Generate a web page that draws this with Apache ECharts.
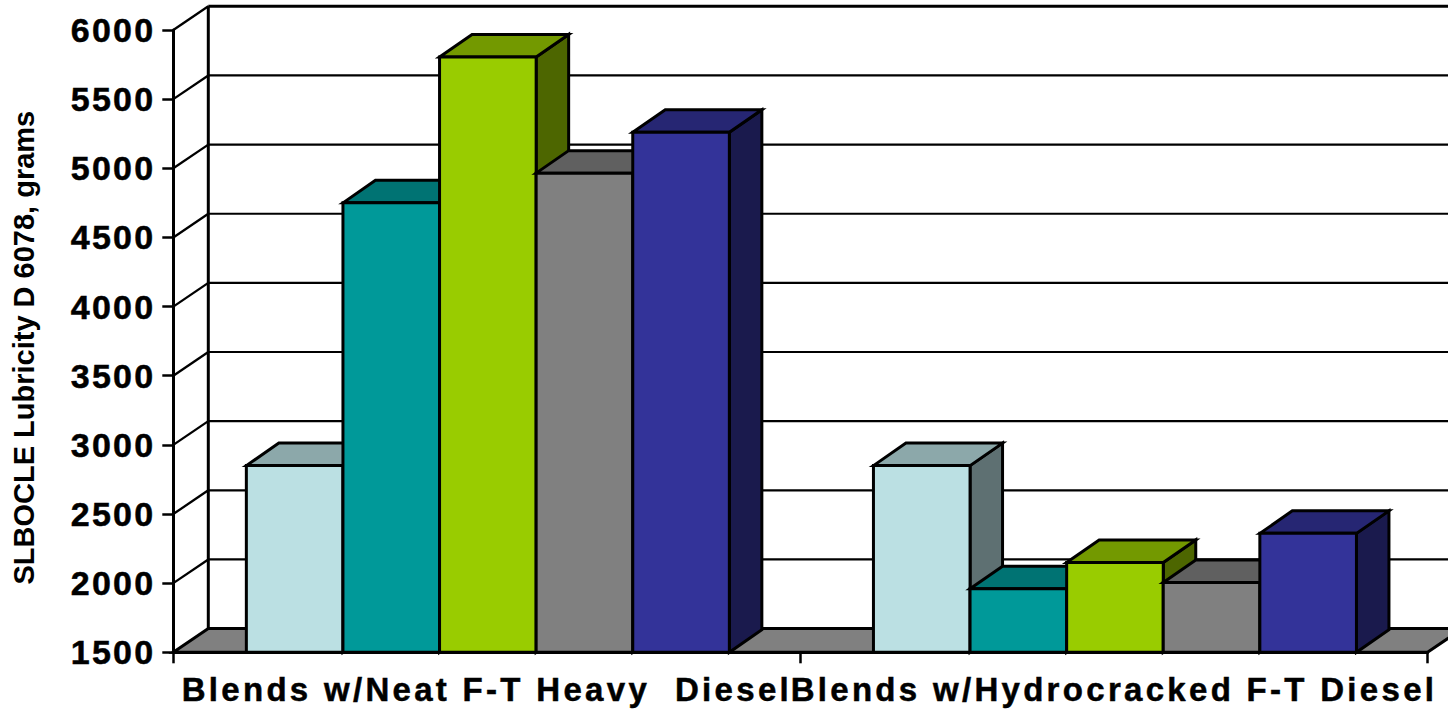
<!DOCTYPE html>
<html>
<head>
<meta charset="utf-8">
<style>
  html, body { margin: 0; padding: 0; background: #fff; }
  #chart { width: 1448px; height: 710px; overflow: hidden; }
  #chart text { white-space: pre; }
  #chart text[style*="33px"] { letter-spacing: 3.3px; }
  #chart text[style*="34px"] { letter-spacing: 2.2px; }
</style>
<script src="https://cdn.jsdelivr.net/npm/echarts@6/dist/echarts.min.js"></script>
</head>
<body>
<div id="chart"></div>
<script>
// SLBOCLE lubricity of diesel blends, one group of five bars per blend family.
var categories = ['Blends w/Neat F-T Heavy  Diesel', 'Blends w/Hydrocracked F-T Diesel'];
var neatHeavyValues = [2850, 4750, 5805, 4965, 5260];
var hydrocrackedValues = [2850, 1960, 2150, 2005, 2360];
var valueTicks = [1500, 2000, 2500, 3000, 3500, 4000, 4500, 5000, 5500, 6000];

var frontColors = ['#BBE0E3', '#009999', '#99CC00', '#808080', '#333399'];
var topColors = ['#8CA8AA', '#007373', '#739900', '#606060', '#262673'];
var sideColors = ['#5E7072', '#004D4D', '#4D6600', '#404040', '#1A1A4D'];

// Oblique projection offsets, in pixels
var wallDepth = { x: 35, y: -23.7 };
var barDepth = { x: 32.5, y: -22.5 };
var barShare = 96.6 / 627.1;
var barShift = 1;

var barRows = [];
[neatHeavyValues, hydrocrackedValues].forEach(function (values, group) {
  values.forEach(function (v, i) { barRows.push([group, i, v]); });
});

function poly(points, fill, width) {
  return {
    type: 'polygon',
    shape: { points: points },
    style: { fill: fill, stroke: '#000', lineWidth: width, lineJoin: 'miter' }
  };
}
function line(x1, y1, x2, y2, width) {
  return {
    type: 'line',
    shape: { x1: x1, y1: y1, x2: x2, y2: y2 },
    style: { stroke: '#000', lineWidth: width, fill: null }
  };
}

function renderWallTick(params, api) {
  var cs = params.coordSys;
  var value = api.value(0);
  var y = api.coord([0, value])[1];
  var left = cs.x, right = cs.x + cs.width;
  var bx = left + wallDepth.x, by = y + wallDepth.y;
  var isFloor = value === valueTicks[0];
  var isTop = value === valueTicks[valueTicks.length - 1];
  var children = [];
  if (isFloor) {
    children.push(poly([[left, y], [bx, by], [right + wallDepth.x, by], [right, y]], '#808080', 3));
    children.push(line(bx, by, bx, cs.y + wallDepth.y, 3));
  } else {
    children.push(line(left, y, bx, by, 2.3));
    children.push(line(bx, by, right + wallDepth.x, by, isTop ? 3 : 2.2));
  }
  return { type: 'group', children: children };
}

function renderBar(params, api) {
  var group = api.value(0), slot = api.value(1), value = api.value(2);
  var center = api.coord([group, value]);
  var base = api.coord([group, valueTicks[0]]);
  var w = api.size([1, 0])[0] * barShare;
  var x0 = center[0] + barShift + (slot - 2.5) * w;
  var x1 = x0 + w;
  var top = center[1], bottom = base[1];
  var dx = barDepth.x, dy = barDepth.y;
  return {
    type: 'group',
    children: [
      poly([[x1, top], [x1 + dx, top + dy], [x1 + dx, bottom + dy], [x1, bottom]], sideColors[slot], 3),
      poly([[x0, top], [x0 + dx, top + dy], [x1 + dx, top + dy], [x1, top]], topColors[slot], 3),
      poly([[x0, top], [x1, top], [x1, bottom], [x0, bottom]], frontColors[slot], 3)
    ]
  };
}

var chart = echarts.init(document.getElementById('chart'), null, { renderer: 'svg' });
chart.setOption({
  animation: false,
  backgroundColor: '#fff',
  grid: { left: 173.3, right: 20.5, top: 30, bottom: 57.7, containLabel: false, outerBoundsMode: 'none' },
  xAxis: {
    type: 'category',
    data: categories,
    z: 10,
    axisLine: { lineStyle: { color: '#000', width: 3 } },
    axisTick: { show: true, alignWithLabel: false, length: 11, lineStyle: { color: '#000', width: 2.5 } },
    axisLabel: {
      interval: 0, margin: 21, color: '#000', hideOverlap: false,
      textBorderColor: '#000', textBorderWidth: 0.5,
      fontFamily: 'Liberation Sans', fontWeight: 'bold', fontSize: 33
    }
  },
  yAxis: {
    type: 'value',
    min: 1500,
    max: 6000,
    interval: 500,
    z: 10,
    name: 'SLBOCLE Lubricity D 6078, grams',
    nameLocation: 'middle',
    nameGap: 135,
    nameTextStyle: {
      color: '#000', fontFamily: 'Liberation Sans', fontWeight: 'bold', fontSize: 29,
      padding: [0, 13, 0, 0]
    },
    splitLine: { show: false },
    axisLine: { show: true, lineStyle: { color: '#000', width: 3 } },
    axisTick: { show: true, length: 11, lineStyle: { color: '#000', width: 2.5 } },
    axisLabel: {
      margin: 18, color: '#000',
      textBorderColor: '#000', textBorderWidth: 0.5,
      fontFamily: 'Liberation Sans', fontWeight: 'bold', fontSize: 34,
      formatter: function (v) { return String(v); }
    }
  },
  series: [
    {
      type: 'custom',
      clip: false,
      z: 1,
      renderItem: renderWallTick,
      encode: { y: 0 },
      data: valueTicks.map(function (v) { return [v]; })
    },
    {
      type: 'custom',
      clip: false,
      z: 2,
      renderItem: renderBar,
      encode: { x: 0, y: 2 },
      data: barRows
    }
  ]
});
</script>
</body>
</html>
